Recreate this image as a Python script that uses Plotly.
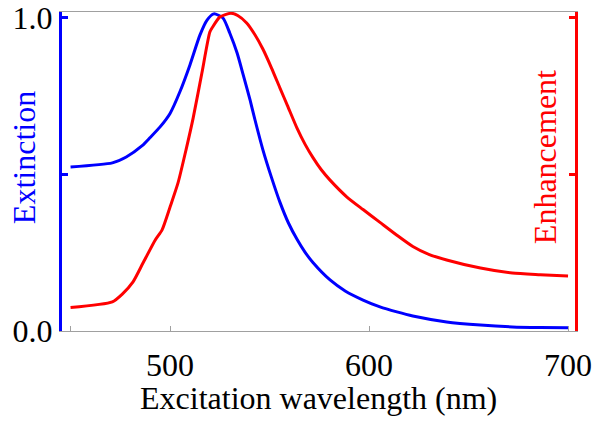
import plotly.graph_objects as go

# Data
wl_ext = [450, 471, 478, 486, 490, 495, 500, 505, 510, 515, 518.6, 522, 526.6, 530,
          533.7, 536.7, 540.2, 542.7, 546.7, 551, 555.3, 559.5, 563.8, 567.8, 571.9, 580.4,
          588, 597, 605.5, 614, 622, 639, 656, 672, 686, 700]
extinction = [0.524, 0.537, 0.556, 0.592, 0.618, 0.652, 0.695, 0.765, 0.85, 0.945,
              0.993, 1.013, 1.0, 0.952, 0.888, 0.82, 0.738, 0.674, 0.578, 0.49, 0.41,
              0.345, 0.293, 0.252, 0.218, 0.163, 0.128, 0.099, 0.077, 0.061, 0.048,
              0.029, 0.019, 0.013, 0.011, 0.010]

wl_enh = [450, 471, 476, 481.4, 486.4, 492.5, 496, 500, 504, 508, 511.6, 516, 520,
          521.5, 525, 530.6, 534, 538.5, 542.5, 546.7, 551, 555.3, 559, 563.8, 567.8,
          571.9, 576, 580.4, 588.9, 597, 605.5, 614, 622, 630, 639, 656, 672, 686, 700]
enhancement = [0.075, 0.093, 0.118, 0.157, 0.217, 0.29, 0.323, 0.396, 0.473,
               0.578, 0.68, 0.824, 0.955, 0.972, 1.003, 1.015, 1.008, 0.984, 0.948,
               0.90, 0.84, 0.775, 0.72, 0.648, 0.597, 0.553, 0.515, 0.482, 0.428, 0.388,
               0.347, 0.306, 0.270, 0.245, 0.227, 0.201, 0.185, 0.180, 0.176]

x_tickvals = [450, 500, 600, 700]
x_ticktext = ["", "500", "600", "700"]
y_tickvals = [0, 0.5, 1.0]
y_ticktext = ["0.0", "", "1.0"]

FONT = "Liberation Serif, Times New Roman, serif"
FS = 32
BLUE = "#0000FF"
RED = "#FF0000"
GRAY = "#A0A0A0"

fig = go.Figure()
fig.add_trace(go.Scatter(x=wl_ext, y=extinction, mode="lines",
                         line=dict(color=BLUE, width=3, shape="spline", smoothing=0.6),
                         yaxis="y", showlegend=False))
fig.add_trace(go.Scatter(x=wl_enh, y=enhancement, mode="lines",
                         line=dict(color=RED, width=3, shape="spline", smoothing=0.6),
                         yaxis="y2", showlegend=False))

fig.update_layout(
    width=594, height=414,
    margin=dict(l=54, r=27, t=4, b=91),
    paper_bgcolor="white", plot_bgcolor="white",
    font=dict(family=FONT, size=FS, color="black"),
    xaxis=dict(range=[445.7, 703.5], showline=True, linecolor=GRAY, linewidth=1,
               mirror=True, ticks="inside", ticklen=5, tickcolor=GRAY, tickwidth=1,
               tickvals=x_tickvals, ticktext=x_ticktext, showgrid=False, zeroline=False,
               automargin=False, ticklabelstandoff=6, ticklabeloverflow="allow",
               tickfont=dict(family=FONT, size=FS, color="black")),
    yaxis=dict(range=[0, 1.019], showline=True, linecolor=BLUE, linewidth=3,
               ticks="inside", ticklen=6, tickcolor=BLUE, tickwidth=3,
               tickvals=y_tickvals, ticktext=y_ticktext, showgrid=False, zeroline=False,
               automargin=False, ticklabeloverflow="allow",
               tickfont=dict(family=FONT, size=FS, color="black")),
    yaxis2=dict(range=[0, 1.019], overlaying="y", side="right", showline=True,
                linecolor=RED, linewidth=3, ticks="inside", ticklen=6, tickcolor=RED,
                tickwidth=3, tickvals=y_tickvals, showticklabels=False,
                showgrid=False, zeroline=False, automargin=False),
    annotations=[
        dict(text="Extinction", xref="paper", yref="paper", x=-0.074, y=0.542,
             xanchor="center", yanchor="middle", textangle=-90, showarrow=False,
             font=dict(family=FONT, size=FS, color=BLUE)),
        dict(text="Enhancement", xref="paper", yref="paper", x=0.9415, y=0.545,
             xanchor="center", yanchor="middle", textangle=-90, showarrow=False,
             font=dict(family=FONT, size=FS, color=RED)),
        dict(text="Excitation wavelength (nm)", xref="paper", yref="paper", x=0.5,
             y=-0.21, xanchor="center", yanchor="middle", showarrow=False,
             font=dict(family=FONT, size=FS, color="black")),
    ],
)

fig.write_html("out.html")
